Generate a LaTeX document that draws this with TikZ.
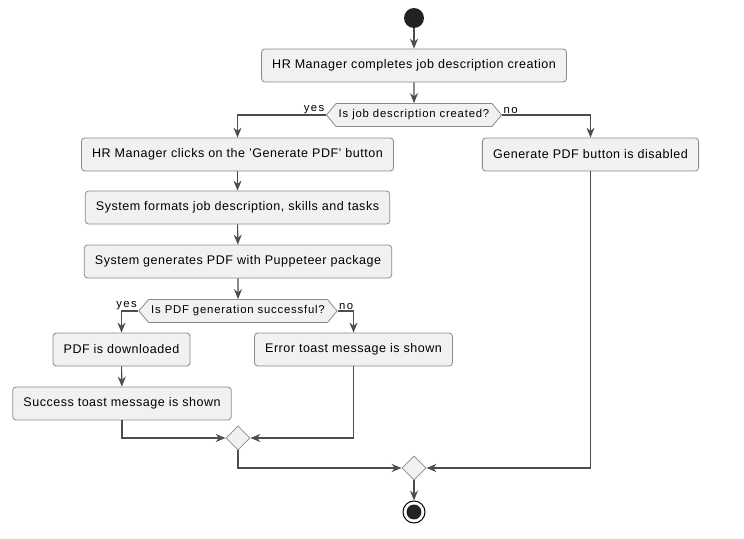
\documentclass[tikz,border=0pt]{standalone}
\usepackage{fontspec}
\setmainfont{Liberation Sans}
\usetikzlibrary{arrows.meta, positioning, shapes.geometric, shapes.symbols}
\definecolor{boxfill}{HTML}{F1F1F1}
\definecolor{boxline}{HTML}{8A8A8A}
\definecolor{flowline}{HTML}{4D4D4D}
\definecolor{dotfill}{HTML}{222222}

\begin{document}
\begin{tikzpicture}[x=0.75pt, y=-0.75pt,
	act/.style={draw=boxline, fill=boxfill, rounded corners=2.5pt, line width=0.6pt, minimum height=24.75pt, inner xsep=8pt, font=\fontsize{9.4}{11}\selectfont\addfontfeature{LetterSpace=4}},
	ask/.style={signal, signal to=east and west, signal pointer angle=100, draw=boxline, fill=boxfill, line width=0.6pt, minimum height=17.25pt, inner xsep=2pt, inner ysep=0pt, font=\fontsize{8.5}{10}\selectfont\addfontfeature{LetterSpace=7}},
	merge/.style={diamond, draw=boxline, fill=boxfill, line width=0.6pt, minimum width=18pt, minimum height=18pt, inner sep=0pt},
	flow/.style={draw=flowline, line width=0.8pt, -{Stealth[length=7.5pt, width=6pt, inset=2.5pt]}},
	lbl/.style={inner sep=1pt, font=\fontsize{8.5}{10}\selectfont\addfontfeature{LetterSpace=12}}]
			\useasboundingbox (0,0) rectangle (744,539);
			
			% start and first step
			\node[circle, fill=dotfill, minimum size=15pt, inner sep=0pt] (start) at (414,18) {};
			\node[act] (complete) at (414,65.5) {HR Manager completes job description creation};
			\node[ask] (created) at (414,115) {Is job description created?};
			
			% yes / no branch
			\node[act] (clicks) at (237.5,154.5) {HR Manager clicks on the 'Generate PDF' button};
			\node[act] (disabled) at (590.5,154.5) {Generate PDF button is disabled};
			\node[act] (formats) at (237.5,207.5) {System formats job description, skills and tasks};
			\node[act] (generates) at (238,261.5) {System generates PDF with Puppeteer package};
			\node[ask] (success) at (238,311) {Is PDF generation successful?};
			
			\node[act] (download) at (121.5,349.5) {PDF is downloaded};
			\node[act] (error) at (353.5,349.5) {Error toast message is shown};
			\node[act] (toast) at (122,403.5) {Success toast message is shown};
			
			% merges and end
			\node[merge] (join1) at (238,438) {};
			\node[merge] (join2) at (414,468) {};
			\node[circle, draw=black, line width=0.75pt, fill=white, minimum size=16.5pt, inner sep=0pt] (stop) at (414,512) {};
			\fill[dotfill] (stop.center) circle (5.6pt);
			
			\node[lbl, anchor=south east] at (created.west) {yes};
			\node[lbl, anchor=south west] at (created.east) {no};
			\node[lbl, anchor=south east] at (success.west) {yes};
			\node[lbl, anchor=south west] at (success.east) {no};
			
			\draw[flow] (start) -- (complete);
			\draw[flow] (complete) -- (created);
			\draw[flow] (created.west) -| (clicks);
			\draw[flow] (created.east) -| (disabled);
			\draw[flow] (clicks) -- (formats);
			\draw[flow] (formats) -- (generates);
			\draw[flow] (generates) -- (success);
			\draw[flow] (success.west) -| (download);
			\draw[flow] (success.east) -| (error);
			\draw[flow] (download) -- (toast);
			\draw[flow] (toast) |- (join1);
			\draw[flow] (error) |- (join1);
			\draw[flow] (join1) |- (join2);
			\draw[flow] (disabled) |- (join2);
			\draw[flow] (join2) -- (stop);
			\end{tikzpicture}
\end{document}
